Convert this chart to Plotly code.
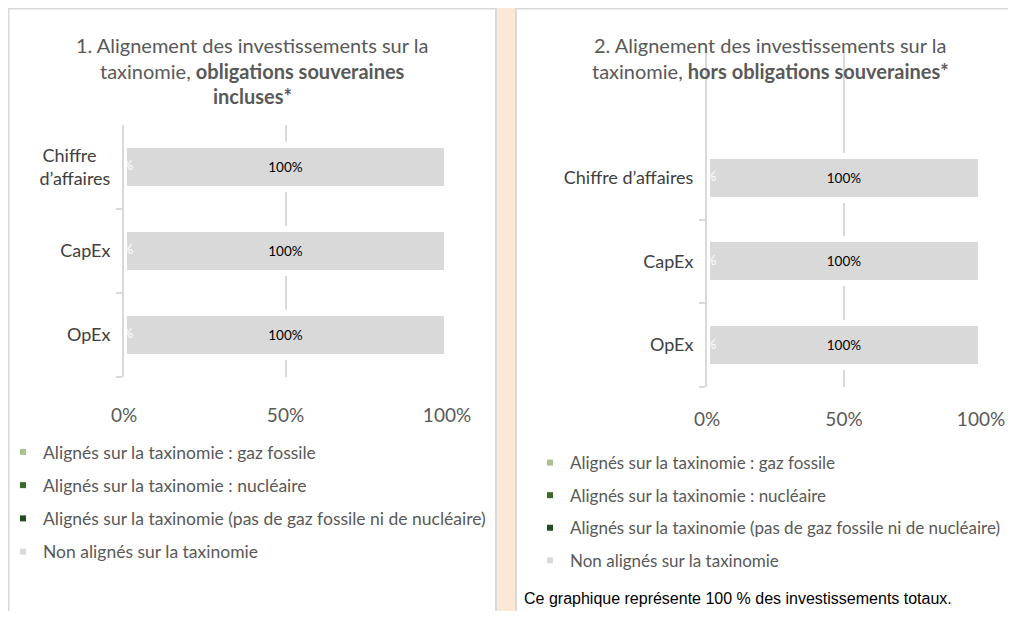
import plotly.graph_objects as go

# The page adds an 8px body margin on every side: the figure is sized to fit
# inside it and positions below are given in window pixels.
OFF = 8
W, H = 1016 - 2 * OFF, 619 - 2 * OFF

# ---- data ----
categories = ["Chiffre d’affaires", "CapEx", "OpEx"]
left_ticktext = ["Chiffre\u00a0\u00a0\u00a0<br>d’affaires", "CapEx", "OpEx"]
series_names = [
    "Alignés sur la taxinomie : gaz fossile",
    "Alignés sur la taxinomie : nucléaire",
    "Alignés sur la taxinomie (pas de gaz fossile ni de nucléaire)",
    "Non alignés sur la taxinomie",
]
series_colors = ["#A9C18F", "#3B6B2A", "#1F4E1F", "#D9D9D9"]
left_values = [
    [0, 0, 0],        # gaz fossile
    [0, 0, 0],        # nucléaire
    [0, 0, 0],        # aligné hors gaz/nucléaire
    [100, 100, 100],  # non aligné
]
right_values = [
    [0, 0, 0],
    [0, 0, 0],
    [0, 0, 0],
    [100, 100, 100],
]
x_tickvals = [0, 50, 100]
x_ticktext = ["0%", "50%", "100%"]

title_left = ["1. Alignement des investissements sur la",
              "taxinomie, <b>obligations souveraines</b>",
              "<b>incluses*</b>"]
title_right = ["2. Alignement des investissements sur la",
               "taxinomie, <b>hors obligations souveraines*</b>"]
footnote = "Ce graphique représente 100 % des investissements totaux."

FONT = "Lato"
GREY_TXT = "#595959"

def px(x):
    return (x - OFF) / W

def py(y):
    return 1 - (y - OFF) / H

fig = go.Figure()

for panel, vals, xa, ya, leg in [("L", left_values, "x", "y", "legend"),
                                 ("R", right_values, "x2", "y2", "legend2")]:
    for i, (name, col) in enumerate(zip(series_names, series_colors)):
        v = vals[i]
        fig.add_trace(go.Bar(
            x=v, y=categories, orientation="h", name=name,
            marker=dict(color=col, line=dict(color="white", width=6)),
            xaxis=xa, yaxis=ya, showlegend=False,
            text=[f"{val:.0f}%" if val > 0 else "" for val in v],
            textposition="inside", insidetextanchor="middle",
            textfont=dict(family=FONT, size=13.5, color="black"),
            hoverinfo="skip",
        ))
        # legend-only marker
        fig.add_trace(go.Scatter(
            x=[None], y=[None], mode="markers", name=name,
            marker=dict(symbol="square", size=6, color=col),
            xaxis=xa, yaxis=ya, legend=leg, legendgroup=panel + str(i),
            showlegend=True,
        ))
    # white labels for the zero segments
    fig.add_trace(go.Scatter(
        x=vals[0], y=categories, mode="text",
        text=[f"{val:.0f}%" for val in vals[0]],
        textposition="middle center",
        textfont=dict(family=FONT, size=13.5, color="white"),
        xaxis=xa, yaxis=ya, showlegend=False, cliponaxis=False,
        hoverinfo="skip",
    ))

xcommon = dict(range=[0, 100], tickvals=x_tickvals, ticktext=x_ticktext,
               showgrid=True, gridcolor="#D9D9D9", gridwidth=2,
               zeroline=False, showline=False, ticks="outside",
               tickcolor="rgba(0,0,0,0)", automargin=False,
               tickfont=dict(family=FONT, size=19, color=GREY_TXT),
               fixedrange=True)
ycommon = dict(type="category", showgrid=False, zeroline=False, showline=True,
               linecolor="#D9D9D9", linewidth=2, ticks="outside",
               ticklen=6, tickcolor="#D9D9D9", tickwidth=2,
               tickson="boundaries", ticklabelstandoff=8, automargin=False,
               tickfont=dict(family=FONT, size=18, color="#404040"),
               fixedrange=True)

legcommon = dict(xanchor="left", yanchor="top", bgcolor="rgba(0,0,0,0)",
                 tracegroupgap=7.5, traceorder="grouped")

fig.update_layout(
    width=W, height=H,
    margin=dict(l=0, r=0, t=0, b=0, pad=0, autoexpand=False),
    paper_bgcolor="#FCE8D6",
    plot_bgcolor="rgba(0,0,0,0)",
    barmode="stack", bargap=0.476,
    font=dict(family=FONT, color=GREY_TXT),
    xaxis=dict(domain=[px(124), px(447)], anchor="y", ticklen=21, **xcommon),
    yaxis=dict(domain=[py(377), py(125)], anchor="x",
               categoryorder="array", categoryarray=categories[::-1],
               range=[-0.5, 2.5],
               tickvals=categories, ticktext=left_ticktext, **ycommon),
    xaxis2=dict(domain=[px(707), px(981)], anchor="y2", ticklen=15, **xcommon),
    yaxis2=dict(domain=[py(387), py(52)], anchor="x2",
                categoryorder="array", categoryarray=categories[::-1],
                range=[-0.5, 3.5],
                tickvals=categories, ticktext=categories, **ycommon),
    legend=dict(x=px(3), y=py(434),
                font=dict(family=FONT, size=17.5, color=GREY_TXT), **legcommon),
    legend2=dict(x=px(530), y=py(445),
                 font=dict(family=FONT, size=17, color=GREY_TXT), **legcommon),
    showlegend=True,
)

shapes = [
    dict(type="rect", xref="paper", yref="paper", layer="below",
         x0=px(8.5), x1=px(496), y0=-0.1, y1=py(8.5),
         fillcolor="white", line=dict(color="#D9D9D9", width=2)),
    dict(type="rect", xref="paper", yref="paper", layer="below",
         x0=px(516), x1=1.1, y0=-0.1, y1=py(8.5),
         fillcolor="white", line=dict(color="#D9D9D9", width=2)),
]
fig.update_layout(shapes=shapes)

ann = []
for i, line in enumerate(title_left):
    ann.append(dict(text=line, x=px(252), y=py(45 + 25.5 * i), xref="paper", yref="paper",
                    xanchor="center", yanchor="middle", showarrow=False,
                    font=dict(family=FONT, size=20, color=GREY_TXT)))
for i, line in enumerate(title_right):
    ann.append(dict(text=line, x=px(770), y=py(45 + 25.5 * i), xref="paper", yref="paper",
                    xanchor="center", yanchor="middle", showarrow=False,
                    font=dict(family=FONT, size=20, color=GREY_TXT)))
ann.append(dict(text=footnote, x=px(522), y=py(598), xref="paper", yref="paper",
                xanchor="left", yanchor="middle", showarrow=False,
                font=dict(family="Liberation Sans, Arial", size=16, color="black")))
fig.update_layout(annotations=ann)

fig.write_html("out.html")
